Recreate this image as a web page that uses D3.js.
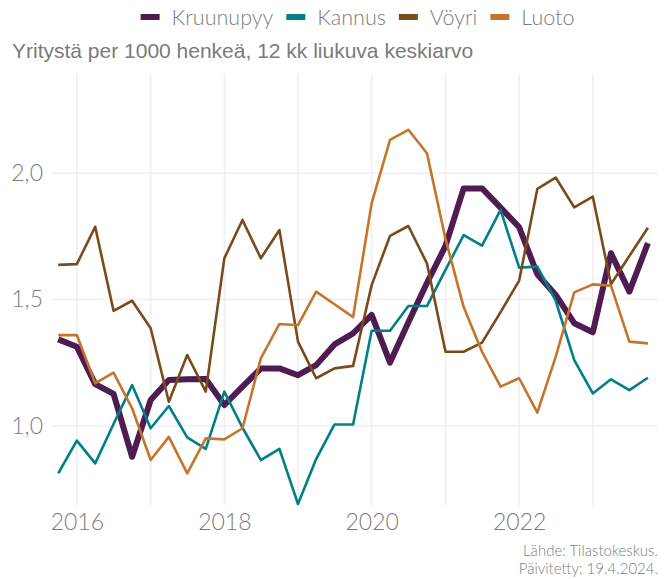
<!DOCTYPE html>
<html><head><meta charset="utf-8">
<script src="https://cdn.jsdelivr.net/npm/d3@7"></script>
<style>
html,body{margin:0;padding:0;background:#fff;}
svg{display:block;}
</style></head>
<body>
<svg id="chart" width="667" height="579"></svg>
<script>
const periods = ["2015-10","2016-01","2016-04","2016-07","2016-10","2017-01","2017-04","2017-07","2017-10",
"2018-01","2018-04","2018-07","2018-10","2019-01","2019-04","2019-07","2019-10",
"2020-01","2020-04","2020-07","2020-10","2021-01","2021-04","2021-07","2021-10",
"2022-01","2022-04","2022-07","2022-10","2023-01","2023-04","2023-07","2023-10"];
const seriesNames = ["Kruunupyy","Kannus","Vöyri","Luoto"];
const seriesColors = ["#4f1c51","#007f89","#7b4a1b","#c4752b"];
const kruunupyy = [1.342,1.313,1.165,1.126,0.877,1.102,1.181,1.184,1.185,1.082,1.155,1.227,1.227,1.200,1.240,1.322,1.366,1.439,1.250,1.410,1.565,1.712,1.940,1.940,1.864,1.786,1.600,1.518,1.406,1.370,1.683,1.531,1.723];
const kannus = [0.811,0.941,0.851,1.007,1.161,0.990,1.078,0.954,0.908,1.135,0.992,0.864,0.908,0.690,0.868,1.005,1.005,1.376,1.376,1.474,1.474,1.617,1.755,1.713,1.855,1.626,1.630,1.495,1.260,1.128,1.184,1.141,1.190];
const voyri = [1.637,1.640,1.788,1.455,1.495,1.386,1.095,1.280,1.135,1.663,1.815,1.663,1.775,1.333,1.188,1.227,1.237,1.557,1.752,1.791,1.643,1.293,1.293,1.329,1.450,1.575,1.938,1.983,1.865,1.907,1.560,1.672,1.784];
const luoto = [1.359,1.359,1.168,1.210,1.069,0.864,0.956,0.811,0.950,0.946,0.990,1.267,1.403,1.398,1.531,1.481,1.430,1.881,2.132,2.172,2.079,1.740,1.470,1.293,1.155,1.188,1.052,1.273,1.528,1.560,1.555,1.333,1.326];
const yTicks = [1.0, 1.5, 2.0];
const xTickYears = [2016, 2018, 2020, 2022];
const gridYears = [2016,2017,2018,2019,2020,2021,2022,2023];
const titleText = "Yritystä per 1000 henkeä, 12 kk liukuva keskiarvo";
const captionLines = ["Lähde: Tilastokeskus.", "Päivitetty: 19.4.2024."];

(function(){
const allValues = [kruunupyy, kannus, voyri, luoto];
const parse = d3.timeParse("%Y-%m");
const dates = periods.map(parse);

const svg = d3.select("#chart");
const pL = 52, pR = 658, pT = 73, pB = 505;
const x = d3.scaleTime().domain([new Date(2015,7,31), new Date(2023,10,20)]).range([pL, pR]);
const y = d3.scaleLinear().domain([0.686, 2.397]).range([pB, pT]);

const lightFont = "Lato, 'Open Sans', sans-serif";
const gray = "#7d7d7d";

// grid
const g = svg.append("g");
g.selectAll("line.vg").data(gridYears).join("line")
  .attr("x1", d => x(new Date(d,0,1))).attr("x2", d => x(new Date(d,0,1)))
  .attr("y1", pT).attr("y2", pB)
  .attr("stroke", "#efefef").attr("stroke-width", 1.6);
g.selectAll("line.hg").data(yTicks).join("line")
  .attr("x1", pL).attr("x2", pR)
  .attr("y1", d => y(d)).attr("y2", d => y(d))
  .attr("stroke", "#efefef").attr("stroke-width", 1.6);

// axes labels
const fmt = v => d3.format(".1f")(v).replace(".", ",");
const yAxis = d3.axisLeft(y).tickValues(yTicks).tickFormat(fmt).tickSize(0).tickPadding(9);
const ya = svg.append("g").attr("transform", `translate(${pL},0)`).call(yAxis);
ya.select(".domain").remove();
ya.selectAll("text").attr("fill", gray).style("font-family", lightFont).style("font-weight", 300).style("font-size", "23px");

const xAxis = d3.axisBottom(x).tickValues(xTickYears.map(v => new Date(v,0,1))).tickFormat(d3.timeFormat("%Y")).tickSize(0).tickPadding(9);
const xa = svg.append("g").attr("transform", `translate(0,${pB})`).call(xAxis);
xa.select(".domain").remove();
xa.selectAll("text").attr("fill", gray).style("font-family", lightFont).style("font-weight", 300).style("font-size", "23px");

// lines
const line = d3.line().x((d,i) => x(dates[i])).y(d => y(d));
const widths = [6, 2.6, 2.6, 2.6];
allValues.forEach((vals, k) => {
  svg.append("path").datum(vals)
    .attr("d", line)
    .attr("fill", "none")
    .attr("stroke", seriesColors[k])
    .attr("stroke-width", widths[k])
    .attr("stroke-linejoin", "round")
    .attr("stroke-linecap", "butt");
});

// title
svg.append("text").attr("x", 12).attr("y", 58).text(titleText)
  .attr("fill", "#7a7a7a").style("font-family", "'Liberation Sans', Arial, sans-serif").style("font-size", "21px");

// legend
const leg = svg.append("g");
const keyW = 19, keyH = 6, gapKT = 12, gapItem = 13;
let cx = 0;
seriesNames.forEach((name, k) => {
  const it = leg.append("g");
  it.append("rect").attr("x", 0).attr("y", -keyH/2).attr("width", keyW).attr("height", keyH).attr("fill", seriesColors[k]);
  const t = it.append("text").attr("x", keyW + gapKT).attr("y", 0).attr("dy", "0.35em").text(name)
    .attr("fill", gray).style("font-family", lightFont).style("font-weight", 300).style("font-size", "21.5px");
  const w = keyW + gapKT + t.node().getComputedTextLength();
  it.attr("transform", `translate(${cx},0)`);
  cx += w + gapItem;
});
const totalW = cx - gapItem;
leg.attr("transform", `translate(${(139 + 576)/2 - totalW/2},17)`);

// caption
captionLines.forEach((s, i) => {
  svg.append("text").attr("text-anchor", "end").attr("x", 658).attr("y", 556 + i*18).text(s)
    .attr("fill", gray).style("font-family", lightFont).style("font-weight", 300).style("font-size", "15px");
});
})();
</script>
</body></html>
